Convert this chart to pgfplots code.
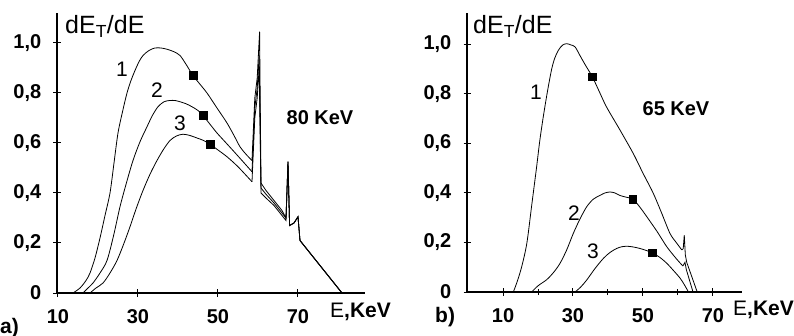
\documentclass[border=0pt]{standalone}
\usepackage{fontspec}
\setmainfont{Liberation Sans}
\usepackage{pgfplots}
\pgfplotsset{compat=1.18}
\pgfplotsset{
  panel/.style={
    scale only axis,
    axis lines=left,
    axis line style={line width=2.6bp,-},
    ymin=0,
    xtick={10,30,50,70},
    xticklabels={10,30,50,70},
    ytick={0,0.2,0.4,0.6,0.8,1.0},
    yticklabels={0,{0,2},{0,4},{0,6},{0,8},{1,0}},
    tick align=center,
    major tick length=7bp,
    minor tick length=6bp,
    tick style={line width=1bp,black},
    ticklabel style={font=\fontsize{20bp}{24bp}\selectfont\bfseries, inner sep=0pt},
    yticklabel style={anchor=east, xshift=-12bp},
    xticklabel style={anchor=north, yshift=-13bp},
  },
  crv/.style={black, line width=0.8bp, mark=none},
  sm/.style={crv, smooth, tension=0.5},
  sq/.style={only marks, mark=square*, mark size=3.8bp, black},
}
\newcommand{\lbl}{\fontsize{21bp}{24bp}\selectfont}
\newcommand{\bl}{\fontsize{20bp}{24bp}\selectfont\bfseries}
\newcommand{\ttl}{\fontsize{25bp}{28bp}\selectfont}
\begin{document}
\begin{tikzpicture}
\useasboundingbox (0,0) rectangle (794bp,336bp);
% ---------------- panel a ----------------
\begin{axis}[panel, at={(57bp,43bp)}, anchor=south west,
  width=308bp, height=280bp, xmin=9.75, xmax=86.75, ymax=1.12]
% curve 1
\addplot[sm] coordinates {
(13.75,0) (15.5,0.02) (17,0.05) (18,0.08) (19.25,0.14) (20.5,0.22) (21.75,0.31)
(23,0.40) (24,0.52) (25,0.64) (26.2,0.73) (27.25,0.80) (28.25,0.85) (29.25,0.89)
(30.25,0.925) (31.25,0.95) (32.75,0.97) (34.25,0.98) (35.75,0.98) (37.25,0.975)
(39,0.965) (40.5,0.95) (42,0.915) (43.75,0.87) (45.5,0.835) (47.25,0.80)
(49.75,0.74) (52.25,0.68) (54,0.63) (55.5,0.585) (57,0.555) (58.5,0.53)};
\addplot[crv] coordinates {
(58.5,0.53) (59.2,0.78) (59.8,0.86) (60.4,1.045) (60.75,0.44) (62,0.41) (64,0.37)
(66,0.33) (67,0.30) (67.5,0.525) (67.9,0.27) (69,0.28) (70,0.305) (70.5,0.21) (81,0)};
% curve 2
\addplot[sm] coordinates {
(16.25,0) (17.5,0.02) (18.75,0.04) (20.5,0.08) (22.25,0.13) (23.9,0.23) (25.5,0.345)
(27.1,0.44) (28.75,0.53) (30.5,0.605) (32.25,0.665) (33.6,0.71) (35,0.745)
(36.5,0.765) (38,0.77) (39.25,0.77) (40.5,0.765) (42,0.757) (43.5,0.745) (45,0.73)
(46.25,0.71) (48,0.675) (49.75,0.64) (51.75,0.605) (53.75,0.57) (56,0.53) (58.5,0.485)};
\addplot[crv] coordinates {
(58.5,0.485) (59.2,0.74) (59.8,0.82) (60.3,0.95) (60.75,0.42) (62,0.395) (64,0.36)
(66,0.32) (67,0.30) (67.5,0.525) (67.9,0.27) (69,0.28) (70,0.305) (70.5,0.21) (81,0)};
% curve 3
\addplot[sm] coordinates {
(18,0) (19.5,0.02) (21.25,0.04) (23,0.08) (24.75,0.13) (26.4,0.195) (28,0.265)
(29.6,0.34) (31.25,0.41) (33,0.475) (34.75,0.53) (36.4,0.575) (38,0.61) (39.6,0.628)
(41.25,0.635) (43,0.63) (44.75,0.62) (46.4,0.61) (48,0.595) (50,0.572) (52.25,0.545)
(55,0.505) (58.5,0.445)};
\addplot[crv] coordinates {
(58.5,0.445) (59.2,0.70) (59.8,0.78) (60.3,0.90) (60.75,0.40) (62,0.38) (64,0.35)
(66,0.31) (67,0.29) (67.5,0.525) (67.9,0.27) (69,0.28) (70,0.305) (70.5,0.21) (81,0)};
\addplot[sq] coordinates {(43.75,0.87) (46.25,0.71) (48,0.595)};
\end{axis}
% ---------------- panel b ----------------
\begin{axis}[panel, at={(467bp,44bp)}, anchor=south west,
  width=275bp, height=279bp, xmin=-0.29, xmax=78.3, ymax=1.127,
  minor xtick={20,40,60}]
% curve 1
\addplot[sm] coordinates {
(12.95,0) (14,0.04) (15.3,0.10) (16.8,0.196) (18.2,0.35) (19.6,0.505) (20.5,0.61)
(21.5,0.707) (22.7,0.81) (23.9,0.90) (24.8,0.945) (25.8,0.976) (27,0.997) (28.2,1.003)
(29.4,0.998) (30.6,0.99) (32,0.955) (33.4,0.92) (35.5,0.87) (37.5,0.81) (39.6,0.747)
(43.4,0.655) (47.2,0.56) (50,0.48) (52.9,0.40) (55.3,0.32) (57.7,0.237) (59.5,0.20)
(61.1,0.17)};
\addplot[crv] coordinates {
(61.1,0.17) (61.5,0.175) (61.8,0.23) (62.1,0.15) (62.5,0.12) (65.5,0)};
% curve 2
\addplot[sm] coordinates {
(18.2,0) (20,0.025) (22.5,0.05) (24.5,0.08) (26.3,0.116) (28.2,0.17) (30.1,0.237)
(32,0.295) (33.9,0.344) (35.8,0.375) (37.7,0.39) (39.1,0.40) (40.6,0.404) (42,0.40)
(43.4,0.39) (45.2,0.383) (47.1,0.375) (49,0.345) (51.1,0.304) (54,0.245) (56.8,0.183)
(59.5,0.135) (61.4,0.105)};
\addplot[crv] coordinates {(61.4,0.105) (62,0.12) (62.4,0.09) (64.3,0)};
% curve 3
\addplot[sm] coordinates {
(30.6,0) (32.2,0.02) (33.9,0.048) (36.3,0.095) (38.7,0.136) (40.6,0.16) (42.5,0.176)
(44,0.183) (45.3,0.185) (47.2,0.182) (49.1,0.176) (50.9,0.168) (52.7,0.158)
(54.8,0.14) (56.8,0.116) (58.7,0.087) (60.6,0.056) (61.8,0.03) (63,0)};
\addplot[sq] coordinates {(35.5,0.87) (47.1,0.375) (52.7,0.158)};
\end{axis}
% ---------------- texts ----------------
\node[anchor=base west, inner sep=0pt] at (65bp,302bp) {\ttl dE\textsubscript{T}/dE};
\node[anchor=base west, inner sep=0pt] at (473bp,302bp) {\ttl dE\textsubscript{T}/dE};
\node at (320bp,218.5bp) {\bl 80 KeV};
\node at (676bp,227.5bp) {\bl 65 KeV};
\node[anchor=base west, inner sep=0pt] at (330bp,19bp) {\lbl E\bfseries,KeV};
\node[anchor=base west, inner sep=0pt] at (733bp,21bp) {\lbl E\bfseries,KeV};
\node[anchor=base west, inner sep=0pt] at (0bp,3bp) {\lbl\bfseries a)};
\node[anchor=base west, inner sep=0pt] at (435bp,14bp) {\lbl\bfseries b)};
\node at (122bp,267bp) {\lbl 1};
\node at (157bp,246bp) {\lbl 2};
\node at (180bp,213bp) {\lbl 3};
\node at (536bp,244bp) {\lbl 1};
\node at (574bp,123bp) {\lbl 2};
\node at (593bp,85bp) {\lbl 3};
\end{tikzpicture}
\end{document}
